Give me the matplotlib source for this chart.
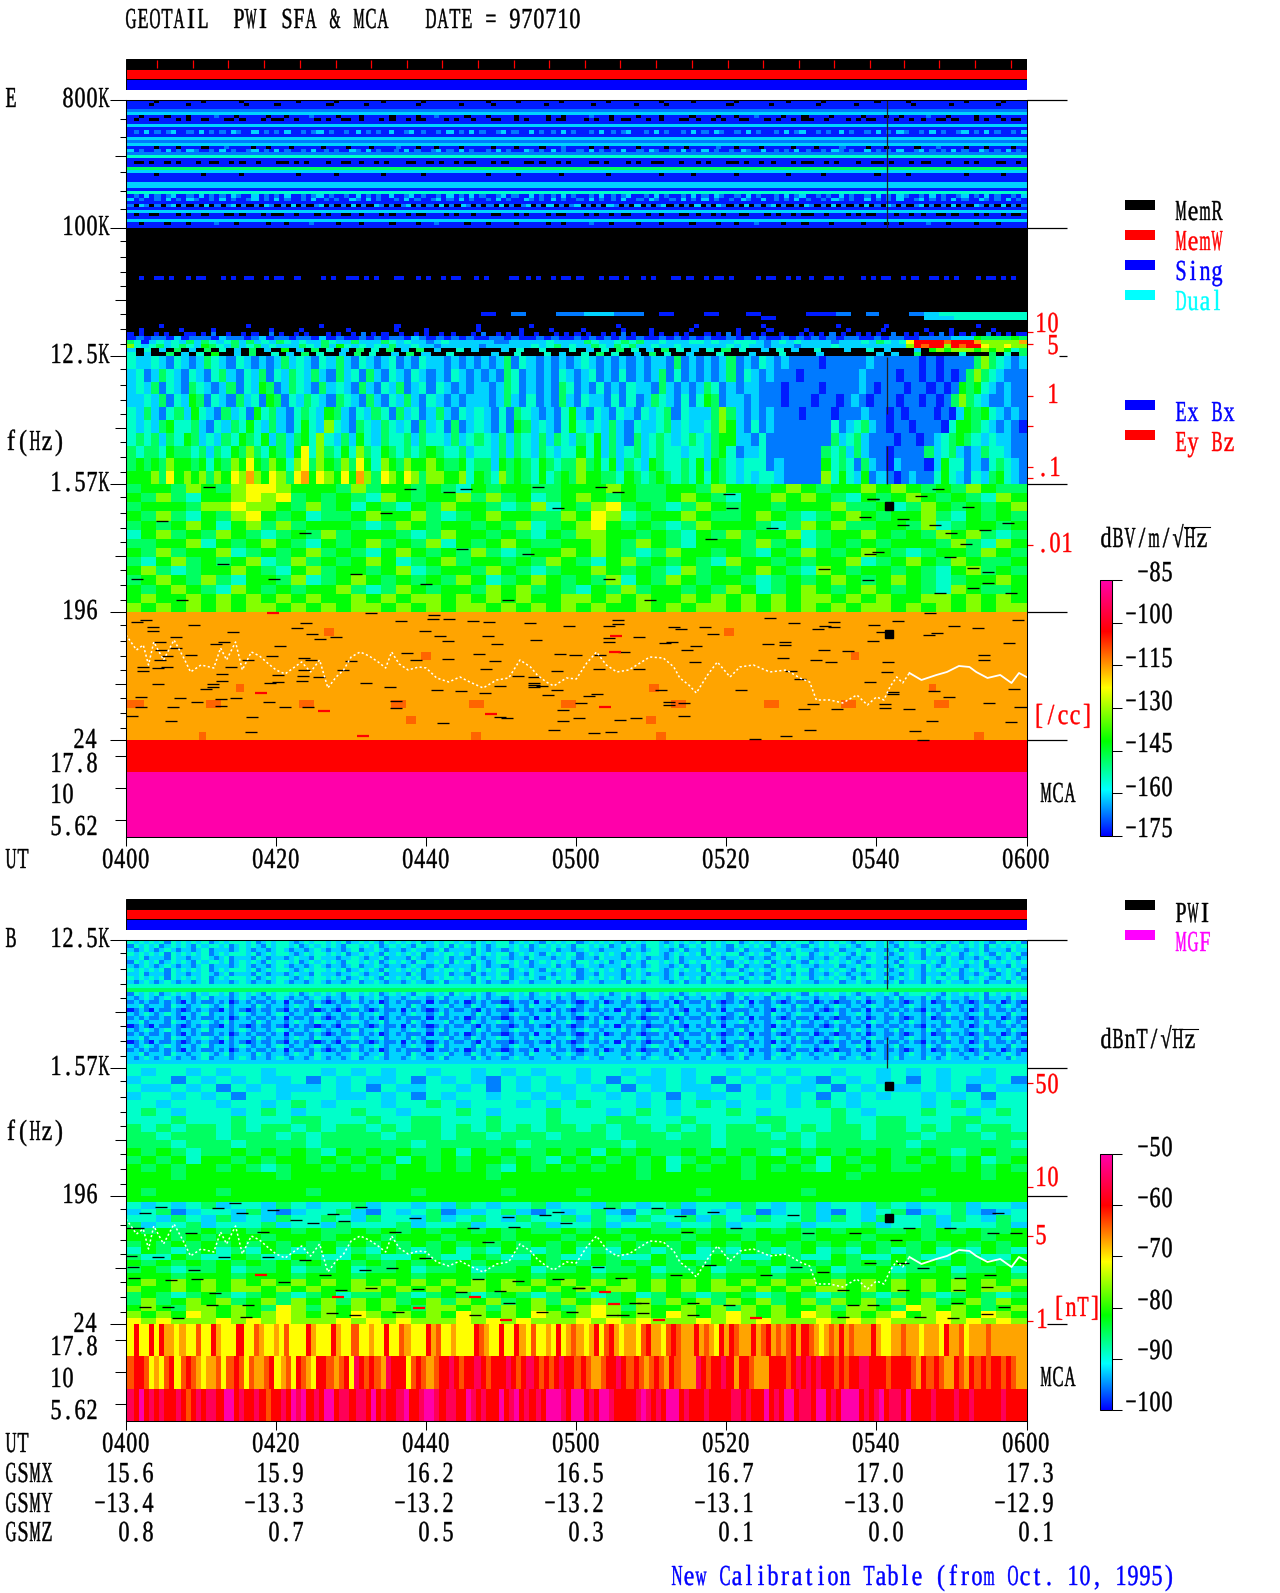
"""GEOTAIL PWI SFA & MCA summary plot, 970710, 0400-0600 UT.

Spectrogram cells are typed as character grids read off the plot, one string
per row. A row may be shorter than the time axis: its cells are then stretched.
"""

import numpy as np
import matplotlib

matplotlib.use("Agg")
import matplotlib.pyplot as plt
from matplotlib import font_manager
from matplotlib.colors import LinearSegmentedColormap, Normalize
from matplotlib.cm import ScalarMappable
from matplotlib.ft2font import LoadFlags
from matplotlib.lines import Line2D
from matplotlib.path import Path
from matplotlib.patheffects import AbstractPathEffect
from matplotlib.transforms import IdentityTransform

plt.rcParams["text.kerning_factor"] = 6  # no kerning: glyphs go in fixed cells

W, H = 1280, 1593
SERIF = "Liberation Serif"
PITCH = 12.0  # the original font is a fixed half-width one, 12 px per char
FONT_PX = 29.0

# character in a grid -> position in the level lists, "." is no signal (black)
LEVEL_CHARS = "012345678o9pm"
E_LEVELS = [-173, -167, -161.5, -155, -148, -142, -132, -123, -115.8, -111, -103, -94, -85]
B_LEVELS = [-99, -95.5, -92.5, -89, -85, -81.5, -76, -71, -67, -63.5, -60, -55, -50]

S1 = ("00000.00000000.000000.0000000000.000000.00000000.0000000.00000000000.00000.0000000.0"
      "0000000.000000000.00000.0000000.000000000.000000.000000000.00000.0000000000.000000.0000")
S2 = ("00.0000.000.00001000.00000.00.000010000.000.00000.0000.00100000.000.0000.00000.00.0"
      "0001000.0000.000.00000.0000.00.00010000.000.0000.00000.000.00.00001000.0000.000.00000")
S3 = ("0.00..000.0.00.000..0.000.0..00.000.0.00..0.000.0.00.0..000.0.00.000..00.0.000.0..0"
      "00.0.00.0..000.0.000..0.00.0.00..000.0.00.0..00.000.0.0..000.00.0.00..0.000.0.00.0..0")
S4 = ("01020101200102010102100201010200101201001020101020012010010201020100120100201010201"
      "00102010120010201001020102100102010010201200101020100102010210010201001201020100102")
S5 = ("1.21.1.12.1.1.2.1.12.1.1.21.1.2.1.12.1.1.2.1.21.1.12.1.1.2.1.21.1.1.2.1.12.1.2.1.1"
      "2.1.1.21.1.2.1.12.1.1.2.1.21.1.2.1.12.1.1.21.1.2.1.1.2.1.21.1.12.1.1.2.1.21.1.2.1.1")

# 800K-100K, 42 rows
E_800K = [S1, S1[::-1], "0", "1", "2", S2, S3, "0", "2", "0", S4, "0", "2", "1", "2", S2[::-1],
          S4[::-1], "1", "3", "0", S3[::-1], "0", "4", "2", S1, "0", "0", "2", "2", "0", "3",
          S4, S4[::-1], "0", S5, "0", "2", S3, "0", "2", S2, "0"]

# 100K-12.5K, 32 rows
E_100K = [
    ".", ".", ".", ".", ".", ".", ".", ".", ".", ".", ".", ".",
    ("..0..00.0..0.00...0.0.00..0.00..0....0.0..00.0.0...00..0.0..0.00..0.0....00.0.0..0.00."
     "0...0.00.0..0.0...00.0..0.00.0....0.00..0.0.0..00.0...0.0.00..0.0..00.0.0...0.00.0.0.."),
    ".", ".", ".", ".", ".", ".", ".", ".",
    "........................0.1..112211.0..0..0...001.1..12333333",
    "...........................................0..........2233333",
    ".",
    ("......0................0.............0..............0...............0.........0........"
     "........0..............0............0..............0........0.................0........."),
    ("..0.......0.....0..........0.....0........0........0.....0.........0.......0.....0....."
     "0.......0....0.......0........0.....0......0.......0......0.......0....0.......0......"),
    ("0.0..0.0...00.0.1..0..0.0..1.0..0.0...0.0..0.1.0.0..0..0.0..0.0...0.1..0.0.0..0...0.0.0"
     ".0..0.0.1.0..0.0..0.0...0.0.1.0..0.0..0...0.0.0.1.0..0.0.0..1.0.0..0.1.0.0.0..1.0.0.00"),
    "010110201110211012011011020100101011021010101001101001010010101010100101010100101010010101010110010110011112225444454",
    "4302323242432342423243232243224222432322123222222112222232222432234342232223323223332123232222122232432379999o9998666668",
    "6323423432543242342322243242532323242232212222212222223234232243243422322322222232322122212222322222222269o9969o99766766",
    "2.3.2.4.2.4.3.2.4.2.5.2.4.3.2.4.3.4.2.4.2..3.2...2.3..3...3.2.3.4.3.2.4.3.2.3.4.3..2.3.2..3...2..3.2...2.5656665656534",
    "3.2..4.2.3.5..2.4..3.2.4.3..2.4.3..2.4.2..3.....2..3...3.2..3.4.3..2.4.3..2...3...2...3....2.......2.2..4.....3...4.3.4",
]

# 12.5K-1.57K, 10 rows
E_12K = [
    "322321321243213212124232132421321231213221212121241321212123212121212214121212412132121111011111211111101011114643212",
    "231243213213421324132432421423142132132121321212143121213212312131212413121212413212111011111112111101101010146432111",
    "232413214321241325412432142321421324123132121221243121214312131213221421212431212211101111011112101110110101545321211",
    "223241325413214231541324321432142132421321212221242131214213221313124321313541221211101110110121011101101014643211211",
    "324213425321423153421343254213243142312421323213143212135213213213234132224642121211101110111211010111010254532121",
    "323245334213243532421353263214324323142314123213154232135323242132234232234652131211111113123421011011103554321210",
    "343424354232435435242453632425324334243324234324243242432435242142343234324552213111111114234211101101234543232211",
    "434435443424354643542573643536435434345433423324243243233535242342343323324531223111111143424211011114234212433211",
    "454546554535465754653674654647536546556544534425454354344645352432543343525432333121111153431421021110253312134321",
    "555647565646576865764785765758647657646655635436454353454655443543454343535432323321111163532512101211353213245321",
]

# 1.57K-196, 14 rows
E_1K = [
    "455465467765554645545435455445556544554655456545565654546544",
    "546435567674545436545564645345654544565435565654354565454365",
    "455546676654645354354655434635467454346545545556445346545456",
    "546435467545344565564345655446576345565445654345654556435454",
    "454565356464555434654554546345675454346555434656445546345545",
    "356454654345464555434655454354665545435464556345565454656434",
    "445563545654354564546354565445565465435554645345454555464365",
    "546455634545645435654546434556565434655454354654565434554654",
    "435645456346454565345645545465435645454365545455634565465445",
    "564345565435645545634554654345565454364545654365455454356454",
    "456546435546345654545465345654546354654554345456545654345565",
    "545654365454556434654554656454354645545465345654565454365445",
    "565565656565655656566565656556656565565656565665656556656565",
    "656565656656565665656566565656565565656656565656566565656566",
]

# 196-24, 16 rows
E_196 = [
    "8", "8", ("8" * 20 + "o" + "8" * 40 + "o" + "8" * 30), "8",
    "8", ("8" * 35 + "o" + "8" * 50 + "o" + "8" * 20), "8", "8",
    "8", ("8" * 12 + "o" + "8" * 45 + "o" + "8" * 30 + "o" + "8" * 10),
    "8", "o8888o88888o88888o8888o88888o888888o88888o8888o88888o88888",
    "8", ("8" * 30 + "o" + "8" * 25 + "o" + "8" * 40), "8",
    ("8" * 8 + "o" + "8" * 30 + "o" + "8" * 20 + "o" + "8" * 35 + "o" + "8" * 5),
]
E_MCA = ["9", "m", "m"]

# 12.5K-1.57K in the B panel, 32 rows
B_A_1 = ("3232323132323231232333231232332123233232312323213232323123233232132323312323213232331"
         "23232321323233212323231323233123232132323312323232132332312323213233231232321323231")
B_A_2 = ("2123212321221231222123212212321221232122123122321221232212312222132122123221222312212"
         "32212223122123221231221322212312221322123221222312232122123122213212322122312221322")
B_A_3 = ("1212112121021211212012121121202112121012112121201212111202112120121211012112021211210"
         "12120121121011212012112121012120211210121120121011212012112101212011212101211201210")
B_12K = [B_A_1, B_A_1[::-1], B_A_2, B_A_1, B_A_2[::-1], B_A_1[::-1], B_A_2, B_A_1, B_A_2[::-1],
         B_A_1, B_A_2, "3", "4", B_A_1[::-1], B_A_2, B_A_3, B_A_2[::-1], B_A_3[::-1], B_A_2,
         B_A_3, B_A_2[::-1], B_A_3[::-1], B_A_2, B_A_3, B_A_2[::-1], B_A_3[::-1], B_A_2,
         B_A_3, B_A_2[::-1], B_A_2, "2", "3"]

# 1.57K-196, 16 rows
B_1K = [
    "323323233233323232332332323233233232323323232332332323233233",
    "233132323223132322313232132323231322323132323213232313232231",
    "322323132322232313223323132322323132322313232231323223231322",
    "233232313323332232313233233232332323132233232313232332323133",
    "332333233234323332334323332323433323234323332343233332343233",
    "343233323432333433233343233343332343233343233334323334332343",
    "333433343334433343344333433343334433343333443334334433344333",
    "434344343443434434344343434344343443434344343434434434343443",
    "443444344434344443444344344434443444344344434344434443444344",
    "444344434444344444434444443444444344444344444344444434444443",
    "545434454545435454544535454454535454454545435454545445434544",
    "454535545455454545354545545435454545345454554535455454545345",
    "545455454345545454554545435454545545354554545435545445545454",
    "555455555545555554555555455555555545555554555555455555555455",
    "555555555555555555555555555555555555555555555555555555555555",
    "545555455555455555545555545555455555554555555455555554555555",
]

# 196-24, 20 rows
B_196 = [
    "555555555555555555555555555555555555555555555555555555555555",
    "323234233243233423323243233423324323423324323423324323342332",
    "234123324212334213234122342132342134213234123421323412342123",
    "332432423243343243324234324334243243342432433424324334243243",
    "423342333423324333423342333423342334233423334233342334233342",
    "545445454554544545454554545445454554454544545454554454545445",
    "555454555455545554555455545554555455545554555455545554555455",
    "454545454545454545454545454545454545454545454545454545454545",
    "354345343543453435434534354345343543453435434534354345343543",
    "433543354335433543354335433543354335433543354335433543354335",
    "545454545454545454545454544545454545454545454545454545454545",
    "454344534453445344534453445344534453445344534453445344534453",
    "555455545554555455545554555455545554555455545554555455545554",
    "565656565656565656565656565656565656565656565656565656565656",
    "655656566565655665656566566565656656565665656566565656565665",
    "454345434543453445434543454345434534543454345434543454345434",
    "464565645646564656456465645646564564656465645646564656456465",
    "565466565476465656546656465654676465565646565564665476565456",
    "656576565676565765656576565765676565765676565765656756765765",
    "767666767676667676766676767666767676667676766676767666767676",
]

B_MCA = [
    ("7977979887877o7798777977o87787o777987779877o77877977o877798o7787779o877977987o7787978"
     "o87897o987887o9887o9o8898o87989o8898o98o8o989o878o898o888987788o8878887988o7888o8888888"),
    ("o99o787o97o9o8788o7o9o7o88o978o79o8799o8o97p9o9o8p9997o9o8o99p9o99p9o999p9o9p9o9o9p99o"
     "9o88o99p9o9o8o9o89o888p9o99p9899o888999o9p9p9p99o9o99pp999o9999o89o9o889o89o9o99o9o88"),
    ("p9m9p9p99p9o9p9pp9mm9p99p9o99p9mpm9p9mm9pp9pp9m9p99pm99pmmp9pp99mp9p99m9pm9p9p9mmmp9mm9"
     "p9mmp9999pmp9p9mm9p999p9999pp9p99m9p9mm9pp9mm9p9mmm9p9pm9pp9m9999p999p99p99999p9999"),
]

# white trace (local plasma line), minutes and pixels below the 196 Hz line
TRACE_MIN = [240, 241.4, 242.3, 243, 243.7, 245, 246.4, 247.7, 248.6, 250, 251.7, 252.6, 253.4,
             254.6, 255.5, 256.7, 257.8, 259, 260, 261.2, 262.3, 263.4, 264.6, 265.8, 266.9,
             268, 269, 270, 271.2, 272.4, 273.6, 274.6, 275.4, 276.4, 277.6, 279, 280, 281.4,
             283, 284.5, 285.8, 287.6, 289.4, 291, 292.5, 293.9, 294.8, 296, 297, 298.7, 300,
             301.4, 302.7, 304, 305.4, 307, 308.5, 309.8, 311.6, 313, 313.8, 315, 316, 317.5,
             318.8, 320.5, 321.8, 323.6, 325.8, 328, 329.8, 331.1, 332, 333.8, 335.5, 337.4,
             338.8, 340, 341, 341.8, 342.7, 343.5, 344.4, 346, 348, 349.4, 351, 352.4, 353.3,
             354.8, 356.5, 358, 359, 360]
TRACE_DEPTH = [23, 38, 33, 53, 30, 48, 28, 46, 60, 53, 56, 36, 48, 30, 58, 40, 44, 52, 58, 62, 56,
               50, 60, 48, 76, 65, 58, 45, 40, 44, 50, 56, 40, 52, 58, 55, 56, 66, 70, 65, 70, 76,
               68, 66, 48, 55, 63, 70, 74, 66, 67, 51, 40, 53, 60, 58, 51, 45, 46, 55, 66, 73, 81,
               63, 50, 65, 55, 53, 60, 58, 66, 70, 88, 88, 91, 83, 93, 85, 88, 75, 65, 71, 61, 68,
               63, 60, 54, 55, 60, 66, 63, 71, 61, 65]
SOLID_FROM = 344.4  # the trace is continuous from here on, dotted before

# dropouts in the E panel (black dashes), minutes and pixels below the 196 Hz line
DROP_E_MIN = [241.5, 242.6, 243.6, 243.6, 249, 254.3, 262.8, 264, 264.8, 265.9, 268, 276.7, 272.6,
              252, 253, 260.5, 244.5, 244.6, 245.5, 248.7, 246.7, 246.6, 244.5, 256.2, 263.7,
              264.7, 259.4, 270, 245.4, 244.3, 242.3, 242.2, 254, 252.8, 263.7, 263.6, 260.3,
              259.2, 260.3, 252.8, 251.6, 251.6, 250.6, 244.2, 268.9, 272, 265.7, 275.2, 263.5,
              242, 247.2, 249.4, 252.6, 254.7, 259, 242, 246.2, 252.6, 261.2, 264.3, 276, 276,
              240.8, 246, 256.8, 256.6, 277.5, 278.6,
              281, 280.9, 283, 279.8, 281.9, 282.9, 286.3, 288.4, 288.3, 293.8, 289.4, 287.1,
              282.9, 289.2, 288, 292.3, 289.9, 281.5, 284.7, 287.9, 294.4, 294.4, 294.4, 295.4,
              294.4, 294.6, 297.8, 299.9, 299.1, 297.5, 297.5, 296.3, 301.7, 302.7, 300.6, 298.3,
              289.8, 290.8, 282.3, 298.3, 300.4, 297.1, 302.4, 304.6, 305.8, 307.9, 314.3, 314.4,
              312.3, 312.3, 311.3, 322, 308.3, 308.4, 306.3, 303.1, 303, 304.3, 304.3, 304.4,
              305.5, 305.5, 311.8, 312.8, 313, 314, 314.8, 315.9, 315.8, 318.2, 317.2, 325.8,
              329, 325.6, 327.8, 327.8, 332.2, 333.2, 334.3, 334.3, 333, 336.2, 331.9, 334, 327.6,
              328.6, 329.8, 331.5, 330.4, 334.7, 331.2, 328, 323.8,
              342.9, 339.7, 340.7, 339.5, 341.6, 341.4, 339.1, 347.2, 350.4, 353.6, 347, 348.1,
              357.7, 354.3, 354.3, 358.9, 347.7, 349.7, 355, 342.2, 342.2, 341.1, 341.1, 344.4,
              347.4, 358, 359.2, 358.3, 345.1, 346.2,
              251.1, 277.8, 283.1, 285.3, 294.9, 303.3, 305.5, 320.4, 348.2, 346, 339.5, 339.6,
              338.5, 343.6, 343.6, 347.8, 350, 352.2, 357.6, 354.5, 352, 340.2, 339.1, 349.8,
              352.9, 354.9, 354.9, 348.5, 358, 352.9, 338.9, 244.8, 252.9, 263.8, 284.8, 293.6,
              304.4, 318, 326.1, 270.6, 247.5, 280, 309.8, 333, 259.7, 290.9, 297.6, 320.7, 274.6,
              241.4]
DROP_E_DEPTH = [10, 8, 15, 19, 13, 20, 16, 11, 22, 27, 25, 9, 1, 32, 30, 34, 30, 38, 44, 43, 25, 36,
                48, 48, 46, 48, 44, 49, 55, 56, 55, 59, 55, 62, 58, 64, 63, 71, 70, 69, 72, 75, 77,
                72, 58, 71, 65, 75, 69, 85, 86, 90, 87, 86, 90, 95, 95, 94, 95, 95, 89, 96, 104,
                109, 105, 120, 41, 48,
                3, 7, 7, 19, 24, 29, 9, 10, 24, 11, 32, 42, 47, 49, 57, 64, 74, 78, 79, 81, 71, 73,
                75, 74, 65, 28, 42, 43, 14, 59, 78, 83, 84, 82, 91, 98, 105, 106, 111, 109, 106,
                118, 121, 120, 108, 106, 104, 91, 90, 93, 78, 78, 57, 25, 40, 43, 57, 26, 30, 14, 8,
                12, 31, 30, 15, 17, 38, 34, 50, 22, 15, 6, 11, 32, 30, 33, 17, 14, 10, 15, 38, 39,
                48, 50, 46, 59, 67, 92, 97, 97, 118, 124, 127,
                9, 13, 20, 29, 50, 60, 70, 1, 14, 16, 23, 21, 31, 43, 48, 8, 79, 85, 91, 82, 80, 92,
                96, 97, 109, 110, 95, 77, 119, 128,
                -125, -123, -120, -123, -125, -125, -120, -118, -123, -116, -113, -113, -95, -93,
                -87, -87, -79, -105, -89, -82, -68, -60, -58, -55, -44, -40, -29, -19, -19, -24,
                -32, -91, -48, -79, -63, -58, -33, -73, -84, -38, -12, -28, -12, -43, -33, -12,
                -104, -104, -99, -33]
HOT_E_MIN = [259.6, 258, 266.4, 271.6, 303.8, 305.1, 305.3, 288.7]
HOT_E_DEPTH = [1, 81, 99, 124, 95, 40, 24, 102]

# black dashes in the B panel
DROP_B_MIN = [244.7, 242.5, 241.6, 240.2, 252.2, 254.5, 255.4, 259.6, 262.7, 264.9, 267.6, 269.1,
              271.3, 275.8, 278.5, 286.3, 288.2, 290.9, 291.7, 295.8, 297.6, 298.7, 248.7, 258.2,
              240.7, 240.9, 244.2, 249.1, 253.1, 258.9, 263.8, 266.5, 271.8, 275.4, 279.8, 286.9,
              292.2, 297.6, 300.2, 241.1, 246, 249.4, 261.1, 268.7, 272.7, 278.9, 289.8, 284.7,
              251.8, 251.4, 256.2, 242.5, 245.6, 246.9, 256, 267.4, 270.5, 276.2, 286.5, 291,
              295.4, 299.4, 328.9, 310.7, 304.4, 313.8, 318.2, 321.3, 314.7, 330.9, 337.1, 349.8,
              355.5, 358.6, 342.6, 344.4, 300.4, 306, 302.9, 325.3, 329.3, 356.2, 313.3, 317.8,
              332.9, 339.1, 343.5, 346.2, 355.1, 351.1, 354.7, 351, 343.5, 335.5, 307.8, 308.9,
              315.5, 320.4, 336.9, 339.5, 350.7, 357, 354.7, 350.2, 345.8, 335.5, 315.6, 306.2,
              304.7, 308.9]
DROP_B_DEPTH = [11, 17, 32, 32, 12, 7, 17, 14, 24, 27, 18, 25, 11, 36, 22, 32, 46, 21, 31, 19, 16,
                27, 37, 36, 60, 71, 61, 74, 61, 61, 64, 79, 74, 72, 62, 83, 85, 83, 92, 82, 84, 83,
                86, 94, 92, 93, 95, 96, 97, 109, 109, 111, 111, 122, 121, 117, 119, 116, 119, 107,
                116, 116, 19, 12, 12, 20, 16, 32, 36, 37, 37, 32, 37, 37, 44, 32, 92, 82, 71, 79,
                71, 17, 79, 69, 76, 67, 67, 72, 79, 82, 91, 94, 94, 94, 107, 107, 107, 109, 109,
                109, 107, 111, 118, 122, 121, 121, 119, 119, 119, 117]
HOT_B_MIN = [268.2, 286.5, 258, 303.8, 311, 290.7, 305, 324, 279]
HOT_B_DEPTH = [101, 101, 79, 96, 124, 124, 108, 122, 112]

# frequency labels as octaves above 24 Hz: 0=24, 1=196, 2=1.57K, 3=12.5K, 4=100K, 5=800K
MCA_BOTTOM = -0.758
MCA_TICKS = [-0.125, -0.375, -0.625]
BAND_MINOR = [0.10, 0.23, 0.34, 0.45, 0.56, 0.67, 0.79, 0.91]
TOP_MINOR = [0.15, 0.29, 0.44, 0.56, 0.71, 0.85]
RED_E = [3.19, 3.09, 2.69, 2.45, 2.13, 2.05, 1.52]
RED_B = [1.88, 1.07, 0.69, 0.02]
REACH_E = [1.0, 1.0, 1.0, 0.2, 1.0, 1.0]  # how far the right major line reaches, per level
REACH_B = [0.5, 1.0, 1.0, 1.0]

TIME_TICKS = [240, 260, 280, 300, 320, 340, 360]
TIME_LABELS = ["0400", "0420", "0440", "0500", "0520", "0540", "0600"]
GSMX = ["15.6", "15.9", "16.2", "16.5", "16.7", "17.0", "17.3"]
GSMY = ["\u221213.4", "\u221213.3", "\u221213.2", "\u221213.2", "\u221213.1", "\u221213.0", "\u221212.9"]
GSMZ = ["0.8", "0.7", "0.5", "0.3", "0.1", "0.0", "0.1"]
MEMW_MARKS = [244.25, 249.05, 253.7, 258.5, 263.2, 268, 272.7, 277.5, 282.2, 287, 291.7, 296.4,
              301.2, 305.9, 310.7, 315.4, 320.2, 324.9, 329.7, 334.4, 339.1, 343.7, 348.4, 353.2,
              357.9]
E_CB_TICKS = [-85, -100, -115, -130, -145, -160, -175]
E_CB_BASELINES = [581, 623, 667, 710, 752, 796, 837]
B_CB_TICKS = [-50, -60, -70, -80, -90, -100]
B_CB_BASELINES = [1156, 1207, 1257, 1309, 1359, 1411]

CMAP = LinearSegmentedColormap.from_list(
    "pwi",
    [(0.0, "#0000ff"), (0.18, "#00ffff"), (0.37, "#00ff00"), (0.58, "#ffff00"),
     (0.80, "#ff0000"), (1.0, "#ff00aa")],
)
CMAP.set_bad("black")


class HalfWidth(AbstractPathEffect):
    """Squeeze each glyph into a fixed cell, as the original bitmap font does."""

    def __init__(self, text):
        font = font_manager.get_font(font_manager.findfont(SERIF))
        font.set_size(100, 72)
        self.adv = np.array([font.load_char(ord(c), flags=LoadFlags.NO_HINTING).linearHoriAdvance
                             / 65536 for c in text])

    def draw_path(self, renderer, gc, tpath, affine, rgbFace=None):
        edges = np.r_[0, np.cumsum(self.adv)]
        cell = PITCH / (FONT_PX / 100)
        k = np.minimum(0.82, 0.92 * cell / self.adv)
        v = tpath.vertices.copy()
        i = np.clip(np.searchsorted(edges, v[:, 0] + 1e-6, side="right") - 1, 0, len(self.adv) - 1)
        v[:, 0] = (v[:, 0] - (edges[i] + self.adv[i] / 2)) * k[i] + (i + 0.5) * cell
        gc.set_linewidth(0.3)
        renderer.draw_path(gc, Path(v, tpath.codes), affine, rgbFace)


def label(fig, x, y, s, color="black"):
    """Text with its left end and baseline at picture pixels x, y."""
    t = fig.text(x, H - y, s, transform=IdentityTransform(), color=color, family=SERIF,
                 fontsize=FONT_PX * 0.72, ha="left", va="baseline")
    t.set_path_effects([HalfWidth(s)])
    return t


def panel_axes(fig, left, top, right, bottom):
    return fig.add_axes([left / W, 1 - bottom / H, (right - left) / W, (bottom - top) / H])


def draw_band(ax, rows, y_top, y_bottom, levels, norm):
    """Draw one frequency band from its character rows, top row first."""
    lookup = {c: v for c, v in zip(LEVEL_CHARS, levels)}
    n_col = 360
    z = np.full((len(rows), n_col), np.nan)
    for i, row in enumerate(rows):
        idx = np.arange(n_col) * len(row) // n_col
        z[i] = [lookup.get(row[j], np.nan) for j in idx]
    xe = np.linspace(240, 360, n_col + 1)
    ye = np.linspace(y_top, y_bottom, len(rows) + 1)
    ax.pcolormesh(xe, ye, z, cmap=CMAP, norm=norm, shading="flat", antialiased=False)


def depth_to_pos(depth):
    return 1 - np.asarray(depth, dtype=float) / 128


def setup_freq_axis(ax, top_octave, reach, red_ticks):
    ax.set_xlim(240, 360)
    ax.set_ylim(MCA_BOTTOM, top_octave)
    ax.set_xticks(TIME_TICKS, labels=[""] * len(TIME_TICKS))
    ax.tick_params(axis="x", length=6.5, width=0.75)
    ax.set_yticks(list(range(top_octave + 1)), labels=[""] * (top_octave + 1))
    ax.tick_params(axis="y", which="major", length=11.2, width=0.75)
    minor = list(MCA_TICKS)
    long_ticks = list(MCA_TICKS)
    for band in range(top_octave):
        offsets = TOP_MINOR if band == 4 else BAND_MINOR
        long_at = 0.44 if band == 4 else 0.56
        for off in offsets:
            minor.append(band + 1 - off)
            if off == long_at:
                long_ticks.append(band + 1 - off)
    ax.set_yticks(minor, minor=True)
    ax.tick_params(axis="y", which="minor", length=4, width=0.75)
    for tick, pos in zip(ax.yaxis.get_minor_ticks(), minor):
        if pos in long_ticks:
            tick.tick1line.set_markersize(7.6)
    for spine in ax.spines.values():
        spine.set_linewidth(0.75)
    # black frequency lines carried on past the right edge
    for band, r in enumerate(reach):
        ax.hlines(band, 365.4 - 5.4 * r, 365.4, color="black", lw=0.9, clip_on=False)
    ax.hlines(red_ticks, 360, 360.93, color="red", lw=0.9, clip_on=False)


def draw_marks(ax, drop_min, drop_depth, hot_min, hot_depth, hot_color):
    ax.hlines(depth_to_pos(drop_depth), np.array(drop_min) - 0.8, np.array(drop_min) + 0.8,
              color="black", lw=0.95)
    ax.hlines(depth_to_pos(hot_depth), np.array(hot_min) - 0.8, np.array(hot_min) + 0.8,
              color=hot_color, lw=1.6)
    minutes = np.array(TRACE_MIN)
    pos = depth_to_pos(TRACE_DEPTH)
    ax.plot(minutes[minutes <= SOLID_FROM], pos[minutes <= SOLID_FROM], color="white", lw=1.1,
            ls=(0, (1.4, 1.6)))
    ax.plot(minutes[minutes >= SOLID_FROM], pos[minutes >= SOLID_FROM], color="white", lw=1.3)


def status_bars(fig, top, marks):
    ax = panel_axes(fig, 125.5, top, 1026.5, top + 30.5)
    ax.barh([2, 1, 0], [120, 120, 120], left=240, height=1, color=["black", "red", "blue"],
            edgecolor="black", linewidth=0.7)
    ax.set_xlim(240, 360)
    ax.set_ylim(-0.5, 2.5)
    ax.axis("off")
    if marks:
        ax.vlines(marks, 1.6, 2.42, color="red", lw=0.9)


def swatch(fig, y, color):
    ax = panel_axes(fig, 1125, y, 1155, y + 10)
    ax.set_facecolor(color)
    ax.set_xticks([])
    ax.set_yticks([])
    for spine in ax.spines.values():
        spine.set_visible(False)


def color_bar(fig, top, bottom, norm, ticks):
    cax = panel_axes(fig, 1100, top, 1111.7, bottom)
    cb = fig.colorbar(ScalarMappable(norm=norm, cmap=CMAP), cax=cax, ticks=ticks)
    cb.ax.set_yticklabels([])
    cb.ax.tick_params(length=6.9, width=0.75)
    cb.outline.set_linewidth(0.75)


def main():
    fig = plt.figure(figsize=(W / 100, H / 100), dpi=100, facecolor="white")
    norm_e = Normalize(-175, -85)
    norm_b = Normalize(-100, -50)

    # E panel
    status_bars(fig, 59, MEMW_MARKS)
    ax = panel_axes(fig, 126, 100, 1026.5, 837)
    draw_band(ax, E_800K, 5, 4, E_LEVELS, norm_e)
    draw_band(ax, E_100K, 4, 3, E_LEVELS, norm_e)
    draw_band(ax, E_12K, 3, 2, E_LEVELS, norm_e)
    draw_band(ax, E_1K, 2, 1, E_LEVELS, norm_e)
    draw_band(ax, E_196, 1, 0, E_LEVELS, norm_e)
    draw_band(ax, E_MCA, 0, MCA_BOTTOM, E_LEVELS, norm_e)
    setup_freq_axis(ax, 5, REACH_E, RED_E)
    draw_marks(ax, DROP_E_MIN, DROP_E_DEPTH, HOT_E_MIN, HOT_E_DEPTH, "red")
    ax.plot([341.7, 341.7], [1.83, 0.83], ls="none", marker="s", ms=5.8, color="black")
    ax.vlines([341.4, 341.4, 341.4], [4, 2.55, 2.0], [5, 2.99, 2.3], color="#202020", lw=0.9)

    # B panel
    status_bars(fig, 899, None)
    ax = panel_axes(fig, 126, 940, 1026.5, 1421)
    draw_band(ax, B_12K, 3, 2, B_LEVELS, norm_b)
    draw_band(ax, B_1K, 2, 1, B_LEVELS, norm_b)
    draw_band(ax, B_196, 1, 0, B_LEVELS, norm_b)
    draw_band(ax, B_MCA, 0, MCA_BOTTOM, B_LEVELS, norm_b)
    setup_freq_axis(ax, 3, REACH_B, RED_B)
    draw_marks(ax, DROP_B_MIN, DROP_B_DEPTH, HOT_B_MIN, HOT_B_DEPTH, "red")
    ax.plot([341.7, 341.7], [1.86, 0.83], ls="none", marker="s", ms=5.8, color="black")
    ax.vlines([341.4, 341.4], [2.0, 2.62], [2.24, 3], color="#202020", lw=0.9)

    color_bar(fig, 580, 836, norm_e, E_CB_TICKS)
    color_bar(fig, 1154, 1410, norm_b, B_CB_TICKS)

    for y, color in [(200, "black"), (230, "red"), (260, "blue"), (290, "cyan"),
                     (400, "blue"), (430, "red"), (900, "black"), (930, "magenta")]:
        swatch(fig, y, color)

    label(fig, 125, 28, "GEOTAIL  PWI SFA & MCA   DATE = 970710")
    label(fig, 671, 1585, "New Calibration Table (from Oct. 10, 1995)", "blue")

    for x, y, s in [(5, 107, "E"), (62, 107, "800K"), (62, 235, "100K"), (50, 363, "12.5K"),
                    (5, 450, "f(Hz)"), (50, 491, "1.57K"), (62, 619, "196"), (73, 748, "24"),
                    (50, 772, "17.8"), (50, 803, "10"), (50, 835, "5.62"), (5, 868, "UT"),
                    (5, 947, "B"), (50, 947, "12.5K"), (5, 1140, "f(Hz)"), (50, 1075, "1.57K"),
                    (62, 1203, "196"), (73, 1332, "24"), (50, 1355, "17.8"), (50, 1387, "10"),
                    (50, 1419, "5.62"), (5, 1452, "UT"), (5, 1482, "GSMX"), (5, 1512, "GSMY"),
                    (5, 1541, "GSMZ"), (1040, 802, "MCA"), (1040, 1386, "MCA"),
                    (1175, 220, "MemR"), (1175, 922, "PWI"), (1100, 547, "dBV/m/\u221aHz"),
                    (1100, 1048, "dBnT/\u221aHz")]:
        label(fig, x, y, s)

    for x, y, s in [(1175, 250, "MemW"), (1175, 451, "Ey Bz"), (1035, 332, "10"), (1047, 354, "5"),
                    (1047, 403, "1"), (1037, 476, ".1"), (1037, 552, ".01"), (1033, 724, "[/cc]"),
                    (1035, 1093, "50"), (1035, 1186, "10"), (1035, 1244, "5"), (1036, 1328, "1"),
                    (1053, 1316, "[nT]")]:
        label(fig, x, y, s, "red")
    label(fig, 1175, 280, "Sing", "blue")
    label(fig, 1175, 421, "Ex Bx", "blue")
    label(fig, 1175, 310, "Dual", "cyan")
    label(fig, 1175, 951, "MGF", "magenta")

    # overline of the square root
    for x0, x1, y in [(1184, 1210, 527), (1172, 1198, 1029)]:
        fig.add_artist(Line2D([x0, x1], [H - y, H - y], color="black", lw=0.8,
                              transform=IdentityTransform()))

    for i, name in enumerate(TIME_LABELS):
        for y in (868, 1452):
            label(fig, 101.7 + 150 * i, y, name)
        for y, vals in ((1482, GSMX), (1512, GSMY), (1541, GSMZ)):
            label(fig, 154 + 150 * i - PITCH * len(vals[i]), y, vals[i])

    for tick, y in zip(E_CB_TICKS + B_CB_TICKS, E_CB_BASELINES + B_CB_BASELINES):
        s = f"\u2212{-tick}"
        label(fig, 1173 - PITCH * len(s), y, s)

    fig.savefig("out.png", dpi=100, facecolor="white")


if __name__ == "__main__":
    main()
